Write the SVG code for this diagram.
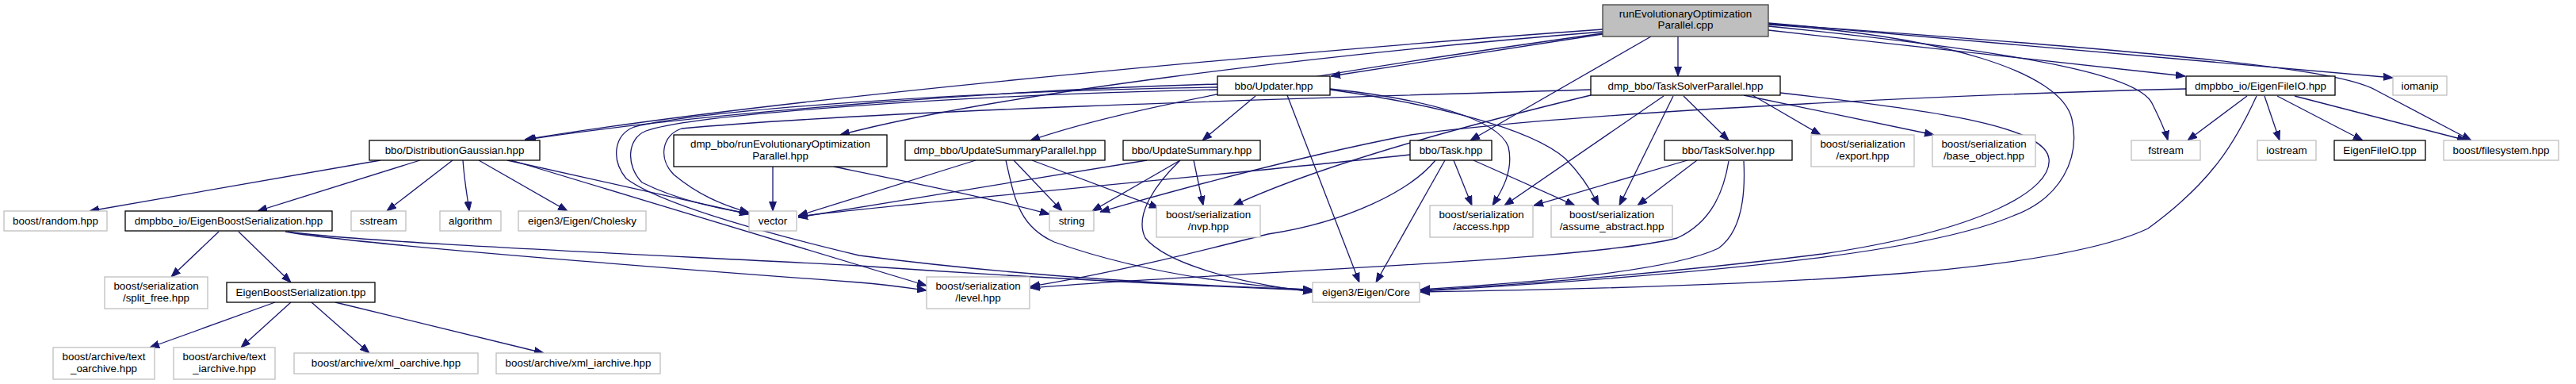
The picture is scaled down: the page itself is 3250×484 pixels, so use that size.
<svg xmlns="http://www.w3.org/2000/svg" width="3250" height="484" viewBox="0 0 3250 484">
<defs>
<marker id="ah" viewBox="0 0 12 10" refX="12" refY="5" markerWidth="12" markerHeight="10" markerUnits="userSpaceOnUse" orient="auto">
<path d="M0,0.5 L12,5 L0,9.5 z" fill="#191970" stroke="#191970" stroke-width="1"/>
</marker>
</defs>
<style>
.b{fill:#fff;stroke:#000;stroke-width:1.3}
.g{fill:#fff;stroke:#bfbfbf;stroke-width:1.3}
.r{fill:#bfbfbf;stroke:#404040;stroke-width:1.3}
text{font-family:"Liberation Sans",Arial,Helvetica,sans-serif;font-size:13.4px;fill:#000;text-anchor:middle}
#edges path{fill:none;stroke:#191970;stroke-width:1.3;marker-end:url(#ah)}
</style>
<rect width="3250" height="484" fill="#fff"/>
<g id="edges">
<path d="M2022,37 C1700,60 1000,120 662,176"/>
<path d="M1536,106 C1300,112 900,140 664,176"/>
<path d="M2022,40 C1650,70 1250,120 1060,170"/>
<path d="M2022,42 C1750,80 1450,125 1300,177"/>
<path d="M2022,43 L1679,96"/>
<path d="M2083,46 L1855,177"/>
<path d="M2117,46 L2117,96"/>
<path d="M2231,38 L2757,96"/>
<path d="M2231,29 L3019,98"/>
<path d="M2231,30 C2800,70 2960,90 3000,115 L3118,177"/>
<path d="M2231,33 C2600,70 2700,100 2715,130 C2725,150 2732,165 2735,177"/>
<path d="M2231,31 C2450,45 2600,90 2614,150 C2625,200 2600,250 2540,272 C2450,310 2250,340 1792,367"/>
<path d="M2246,117 C2450,140 2580,160 2585,200 C2590,240 2500,290 2300,320 C2100,345 1900,360 1792,366"/>
<path d="M2200,203 C2202,240 2200,290 2168,313 C2100,345 1900,358 1792,365"/>
<path d="M2181,203 C2175,240 2160,280 2116,300 C2000,330 1500,345 1300,363"/>
<path d="M2129,202 L1935,259"/>
<path d="M2141,202 L2066,259"/>
<path d="M1811,202 C1780,240 1700,280 1600,295 C1500,320 1400,345 1300,361"/>
<path d="M1823,202 L1736,356"/>
<path d="M1834,202 L1857,259"/>
<path d="M1859,202 L1987,259"/>
<path d="M1624,120 L1715,356"/>
<path d="M1584,121 L1517,177"/>
<path d="M1678,112 C1800,125 1890,150 1903,185 C1910,215 1895,240 1883,259"/>
<path d="M1678,113 C1800,130 1930,160 1975,200 C1995,220 2010,245 2017,259"/>
<path d="M2124,121 L2181,177"/>
<path d="M2211,120 L2297,170"/>
<path d="M2200,120 L2440,170"/>
<path d="M2099,121 L1898,259"/>
<path d="M2111,121 L2043,259"/>
<path d="M2007,120 C1800,170 1650,215 1556,259"/>
<path d="M363,292 C450,305 800,320 1084,335 C1300,350 1500,360 1656,366"/>
<path d="M360,292 C450,308 800,335 1084,356 C1120,359 1140,362 1169,366"/>
<path d="M276,292 L216,349"/>
<path d="M301,292 L367,356"/>
<path d="M347,381 L189,438"/>
<path d="M367,381 L304,438"/>
<path d="M393,381 L466,445"/>
<path d="M423,381 L686,445"/>
<path d="M480,202 L113,266"/>
<path d="M530,202 L325,266"/>
<path d="M571,202 L488,266"/>
<path d="M584,202 C586,230 590,250 592,266"/>
<path d="M604,202 L716,266"/>
<path d="M640,202 L945,270"/>
<path d="M645,202 L1169,360"/>
<path d="M975,210 L975,266"/>
<path d="M1052,210 C1150,230 1250,250 1324,270"/>
<path d="M1231,202 L1007,272"/>
<path d="M1279,202 L1340,266"/>
<path d="M1302,202 L1462,262"/>
<path d="M1269,202 C1280,250 1285,285 1330,305 C1400,330 1500,355 1656,366"/>
<path d="M1447,202 L1007,274"/>
<path d="M1489,202 L1378,266"/>
<path d="M1489,202 C1460,230 1430,270 1445,300 C1470,330 1550,355 1656,368"/>
<path d="M1506,202 L1518,259"/>
<path d="M1779,195 C1500,225 1100,260 1007,273"/>
<path d="M2758,112 C2500,118 2000,140 1780,170 C1650,195 1500,235 1388,267"/>
<path d="M2835,121 L2760,177"/>
<path d="M2857,121 L2876,177"/>
<path d="M2873,121 L2981,177"/>
<path d="M2895,121 L3112,177"/>
<path d="M2847,121 C2820,180 2790,230 2710,288 C2600,340 2300,360 1792,368"/>
<path d="M1536,110 C1200,115 880,140 800,160 C775,170 770,200 790,225 C830,255 950,290 1084,322 C1300,350 1500,360 1656,365"/>
<path d="M1536,113 C1200,120 870,145 815,165 C790,175 790,210 810,230 C850,250 900,262 945,269"/>
<path d="M2007,113 C1600,125 1100,140 860,162 C835,170 830,200 850,220 C880,245 910,258 945,268"/>
</g>
<g id="n_root"><rect class="r" x="2022" y="6" width="209" height="40"/><text x="2126.5" y="21.5">runEvolutionaryOptimization</text><text x="2126.5" y="36">Parallel.cpp</text></g>
<g id="n_updater"><rect class="b" x="1536" y="96" width="142" height="24"/><text x="1607" y="112.5">bbo/Updater.hpp</text></g>
<g id="n_tsp"><rect class="b" x="2007" y="96" width="239" height="24"/><text x="2126.5" y="112.5">dmp_bbo/TaskSolverParallel.hpp</text></g>
<g id="n_efio"><rect class="b" x="2758" y="96" width="188" height="24"/><text x="2852" y="112.5">dmpbbo_io/EigenFileIO.hpp</text></g>
<g id="n_iomanip"><rect class="g" x="3019" y="96" width="68" height="24"/><text x="3053" y="112.5">iomanip</text></g>
<g id="n_dg"><rect class="b" x="466" y="177" width="215" height="25"/><text x="573.5" y="194">bbo/DistributionGaussian.hpp</text></g>
<g id="n_reop"><rect class="b" x="850" y="170" width="269" height="40"/><text x="984.5" y="186">dmp_bbo/runEvolutionaryOptimization</text><text x="984.5" y="201">Parallel.hpp</text></g>
<g id="n_usp"><rect class="b" x="1142" y="177" width="252" height="25"/><text x="1268" y="194">dmp_bbo/UpdateSummaryParallel.hpp</text></g>
<g id="n_us"><rect class="b" x="1417" y="177" width="173" height="25"/><text x="1503.5" y="194">bbo/UpdateSummary.hpp</text></g>
<g id="n_task"><rect class="b" x="1779" y="177" width="103" height="25"/><text x="1830.5" y="194">bbo/Task.hpp</text></g>
<g id="n_ts"><rect class="b" x="2100" y="177" width="161" height="25"/><text x="2180.5" y="194">bbo/TaskSolver.hpp</text></g>
<g id="n_export"><rect class="g" x="2285" y="170" width="130" height="40"/><text x="2350" y="186">boost/serialization</text><text x="2350" y="201">/export.hpp</text></g>
<g id="n_baseobj"><rect class="g" x="2438" y="170" width="130" height="40"/><text x="2503" y="186">boost/serialization</text><text x="2503" y="201">/base_object.hpp</text></g>
<g id="n_fstream"><rect class="g" x="2689" y="177" width="87" height="25"/><text x="2732.5" y="194">fstream</text></g>
<g id="n_iostream"><rect class="g" x="2848" y="177" width="74" height="25"/><text x="2885" y="194">iostream</text></g>
<g id="n_efiotpp"><rect class="b" x="2945" y="177" width="115" height="25"/><text x="3002.5" y="194">EigenFileIO.tpp</text></g>
<g id="n_filesystem"><rect class="g" x="3083" y="177" width="145" height="25"/><text x="3155.5" y="194">boost/filesystem.hpp</text></g>
<g id="n_random"><rect class="g" x="5" y="266" width="130" height="25"/><text x="70" y="283">boost/random.hpp</text></g>
<g id="n_ebs"><rect class="b" x="158" y="266" width="261" height="25"/><text x="288.5" y="283">dmpbbo_io/EigenBoostSerialization.hpp</text></g>
<g id="n_sstream"><rect class="g" x="443" y="266" width="69" height="25"/><text x="477.5" y="283">sstream</text></g>
<g id="n_algorithm"><rect class="g" x="555" y="266" width="77" height="25"/><text x="593.5" y="283">algorithm</text></g>
<g id="n_cholesky"><rect class="g" x="654" y="266" width="161" height="25"/><text x="734.5" y="283">eigen3/Eigen/Cholesky</text></g>
<g id="n_vector"><rect class="g" x="945" y="266" width="60" height="25"/><text x="975" y="283">vector</text></g>
<g id="n_string"><rect class="g" x="1324" y="266" width="56" height="25"/><text x="1352" y="283">string</text></g>
<g id="n_nvp"><rect class="g" x="1459" y="259" width="131" height="40"/><text x="1524.5" y="275">boost/serialization</text><text x="1524.5" y="290">/nvp.hpp</text></g>
<g id="n_access"><rect class="g" x="1804" y="259" width="130" height="40"/><text x="1869" y="275">boost/serialization</text><text x="1869" y="290">/access.hpp</text></g>
<g id="n_assume"><rect class="g" x="1957" y="259" width="153" height="40"/><text x="2033.5" y="275">boost/serialization</text><text x="2033.5" y="290">/assume_abstract.hpp</text></g>
<g id="n_splitfree"><rect class="g" x="132" y="349" width="130" height="40"/><text x="197" y="365">boost/serialization</text><text x="197" y="380">/split_free.hpp</text></g>
<g id="n_ebstpp"><rect class="b" x="286" y="356" width="187" height="25"/><text x="379.5" y="373">EigenBoostSerialization.tpp</text></g>
<g id="n_level"><rect class="g" x="1169" y="349" width="130" height="40"/><text x="1234" y="365">boost/serialization</text><text x="1234" y="380">/level.hpp</text></g>
<g id="n_core"><rect class="g" x="1656" y="356" width="135" height="25"/><text x="1723.5" y="373">eigen3/Eigen/Core</text></g>
<g id="n_textoa"><rect class="g" x="67" y="438" width="128" height="40"/><text x="131" y="454">boost/archive/text</text><text x="131" y="469">_oarchive.hpp</text></g>
<g id="n_textia"><rect class="g" x="219" y="438" width="128" height="40"/><text x="283" y="454">boost/archive/text</text><text x="283" y="469">_iarchive.hpp</text></g>
<g id="n_xmloa"><rect class="g" x="371" y="445" width="232" height="26"/><text x="487" y="462">boost/archive/xml_oarchive.hpp</text></g>
<g id="n_xmlia"><rect class="g" x="626" y="445" width="207" height="26"/><text x="729.5" y="462">boost/archive/xml_iarchive.hpp</text></g>
</svg>
